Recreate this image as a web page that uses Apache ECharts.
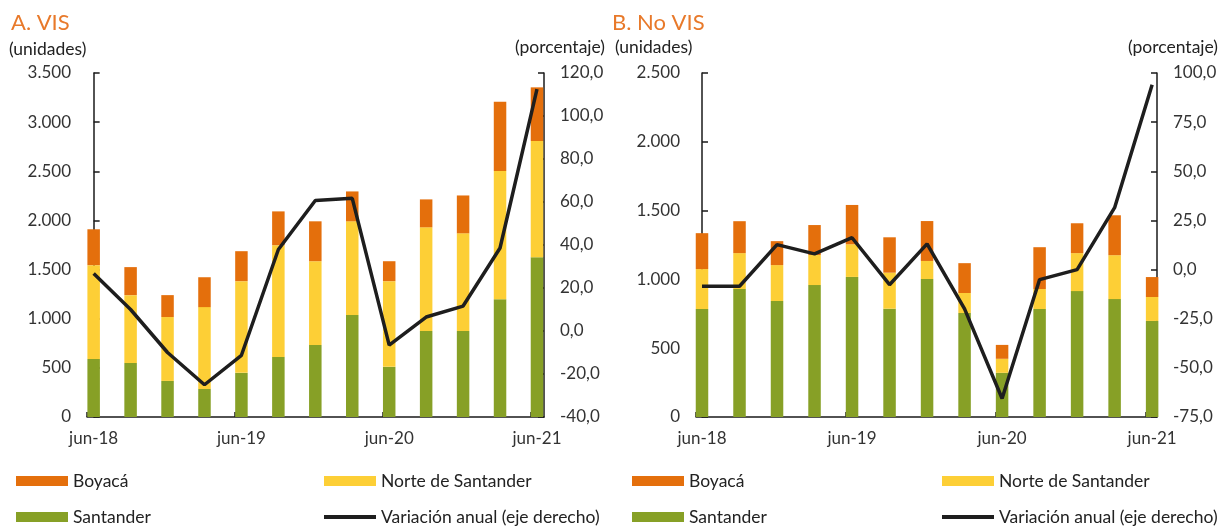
<!DOCTYPE html>
<html>
<head>
<meta charset="utf-8">
<script src="https://cdn.jsdelivr.net/npm/echarts@6/dist/echarts.min.js"></script>
<style>
  html, body { margin: 0; padding: 0; background: #fff; }
  #chart { width: 1230px; height: 527px; }
</style>
</head>
<body>
<div id="chart"></div>
<script>
// trimestres jun-18 .. jun-21
var periodos = ['jun-18', 'sep-18', 'dic-18', 'mar-19', 'jun-19', 'sep-19', 'dic-19', 'mar-20', 'jun-20', 'sep-20', 'dic-20', 'mar-21', 'jun-21'];

// A. VIS (unidades)
var visSantander = [590, 550, 367, 286, 449, 611, 733, 1037, 510, 875, 875, 1199, 1626];
var visNorte = [955, 690, 650, 832, 933, 1137, 852, 954, 872, 1055, 994, 1304, 1182];
var visBoyaca = [365, 285, 223, 304, 305, 344, 406, 304, 203, 284, 385, 705, 546];
var visVariacion = [26.7, 10.0, -10.0, -25.0, -11.3, 37.9, 60.7, 61.7, -6.6, 6.5, 11.6, 38.6, 112.5];

// B. No VIS (unidades)
var noVisSantander = [785, 930, 843, 959, 1018, 787, 1003, 756, 321, 785, 915, 857, 698];
var noVisNorte = [290, 261, 261, 218, 237, 262, 131, 145, 102, 145, 276, 319, 174];
var noVisBoyaca = [261, 232, 174, 218, 286, 257, 290, 217, 101, 304, 217, 290, 145];
var noVisVariacion = [-8.5, -8.5, 12.7, 8.0, 16.2, -7.7, 13.1, -20.0, -65.6, -5.1, 0.0, 31.5, 94.0];

var etiquetasX = [0, 4, 8, 12];

var colorBoyaca = '#E46F0C';
var colorNorte = '#FDCF36';
var colorSantander = '#87A026';
var colorLinea = '#1E1E1E';
var colorTitulo = '#E8792A';
var fuente = 'Lato';

// [valor, posicion] -> la primera columna es la que se apila
function puntos(arr) {
    var out = [];
    for (var i = 0; i < arr.length; i++) {
        out.push([arr[i], i]);
    }
    return out;
}

function miles(v) {
    return String(v).replace(/\B(?=(\d{3})+(?!\d))/g, '.');
}

function xAxisDe(gridIndex, min, max, tickShift) {
    return {
        type: 'value',
        gridIndex: gridIndex,
        min: min,
        max: max,
        splitLine: { show: false },
        axisLine: { show: true, onZero: false, lineStyle: { color: '#1a1a1a', width: 1.5 } },
        axisTick: {
            show: true,
            inside: true,
            length: 5,
            customValues: etiquetasX.map(function (v) { return v + tickShift; }),
            lineStyle: { color: '#1a1a1a', width: 1.5 }
        },
        axisLabel: {
            customValues: etiquetasX,
            margin: 13,
            fontFamily: fuente,
            fontSize: 17,
            color: '#333',
            formatter: function (v) { return periodos[Math.round(v)]; }
        }
    };
}

function yAxisDe(gridIndex, position, min, max, interval, fmt) {
    return {
        type: 'value',
        gridIndex: gridIndex,
        position: position,
        min: min,
        max: max,
        interval: interval,
        splitLine: { show: false },
        axisLine: { show: true, lineStyle: { color: '#1a1a1a', width: 1.5 } },
        axisTick: { show: true, inside: true, length: 6, lineStyle: { color: '#1a1a1a', width: 1.5 } },
        axisLabel: {
            margin: 16,
            fontFamily: fuente,
            fontSize: 17,
            color: '#333',
            formatter: fmt
        }
    };
}

function barra(nombre, datos, color, xi, yi, pila) {
    return {
        name: nombre,
        type: 'bar',
        stack: pila,
        xAxisIndex: xi,
        yAxisIndex: yi,
        encode: { x: 1, y: 0 },
        barWidth: 12.5,
        itemStyle: { color: color },
        data: puntos(datos),
        animation: false
    };
}

function linea(datos, xi, yi) {
    return {
        name: 'Variación anual (eje derecho)',
        type: 'line',
        xAxisIndex: xi,
        yAxisIndex: yi,
        encode: { x: 1, y: 0 },
        symbol: 'none',
        z: 5,
        itemStyle: { color: colorLinea },
        lineStyle: { color: colorLinea, width: 3.5 },
        data: puntos(datos),
        animation: false
    };
}

function leyenda(nombre, left, top, esLinea) {
    return {
        data: [nombre],
        left: left,
        top: top,
        padding: 0,
        icon: 'rect',
        itemWidth: 52,
        itemHeight: esLinea ? 4 : 10,
        itemGap: 0,
        selectedMode: false,
        textStyle: { fontFamily: fuente, fontSize: 17.5, color: '#222' }
    };
}

function texto(t, left, top, size, color) {
    return {
        text: t, left: left, top: top, padding: 0,
        textStyle: { fontFamily: fuente, fontSize: size, fontWeight: 'normal', color: color }
    };
}

var fmtPct = function (v) { return v.toFixed(1).replace('.', ','); };

var option = {
    animation: false,
    title: [
        texto('A. VIS', 11, 12, 22, colorTitulo),
        texto('(unidades)', 9, 40, 17.5, '#222'),
        texto('(porcentaje)', 515, 38, 17.5, '#222'),
        texto('B. No VIS', 612, 12, 22, colorTitulo),
        texto('(unidades)', 615, 38, 17.5, '#222'),
        texto('(porcentaje)', 1128, 38, 17.5, '#222')
    ],
    legend: [
        leyenda('Boyacá', 16, 472, false),
        leyenda('Norte de Santander', 324, 472, false),
        leyenda('Santander', 16, 508, false),
        leyenda('Variación anual (eje derecho)', 324, 508, true),
        leyenda('Boyacá', 632, 472, false),
        leyenda('Norte de Santander', 942, 472, false),
        leyenda('Santander', 632, 508, false),
        leyenda('Variación anual (eje derecho)', 942, 508, true)
    ],
    grid: [
        { left: 87, right: 686, top: 73, bottom: 110 },
        { left: 696, right: 73, top: 73, bottom: 110 }
    ],
    xAxis: [
        xAxisDe(0, -0.18, 12.19, -0.18),
        xAxisDe(1, -0.16, 12.13, -0.16)
    ],
    yAxis: [
        yAxisDe(0, 'left', 0, 3500, 500, miles),
        yAxisDe(0, 'right', -40, 120, 20, fmtPct),
        yAxisDe(1, 'left', 0, 2500, 500, miles),
        yAxisDe(1, 'right', -75, 100, 25, fmtPct)
    ],
    series: [
        barra('Santander', visSantander, colorSantander, 0, 0, 'vis'),
        barra('Norte de Santander', visNorte, colorNorte, 0, 0, 'vis'),
        barra('Boyacá', visBoyaca, colorBoyaca, 0, 0, 'vis'),
        linea(visVariacion, 0, 1),
        barra('Santander', noVisSantander, colorSantander, 1, 2, 'novis'),
        barra('Norte de Santander', noVisNorte, colorNorte, 1, 2, 'novis'),
        barra('Boyacá', noVisBoyaca, colorBoyaca, 1, 2, 'novis'),
        linea(noVisVariacion, 1, 3)
    ]
};

var chart = echarts.init(document.getElementById('chart'));
chart.setOption(option);
</script>
</body>
</html>
